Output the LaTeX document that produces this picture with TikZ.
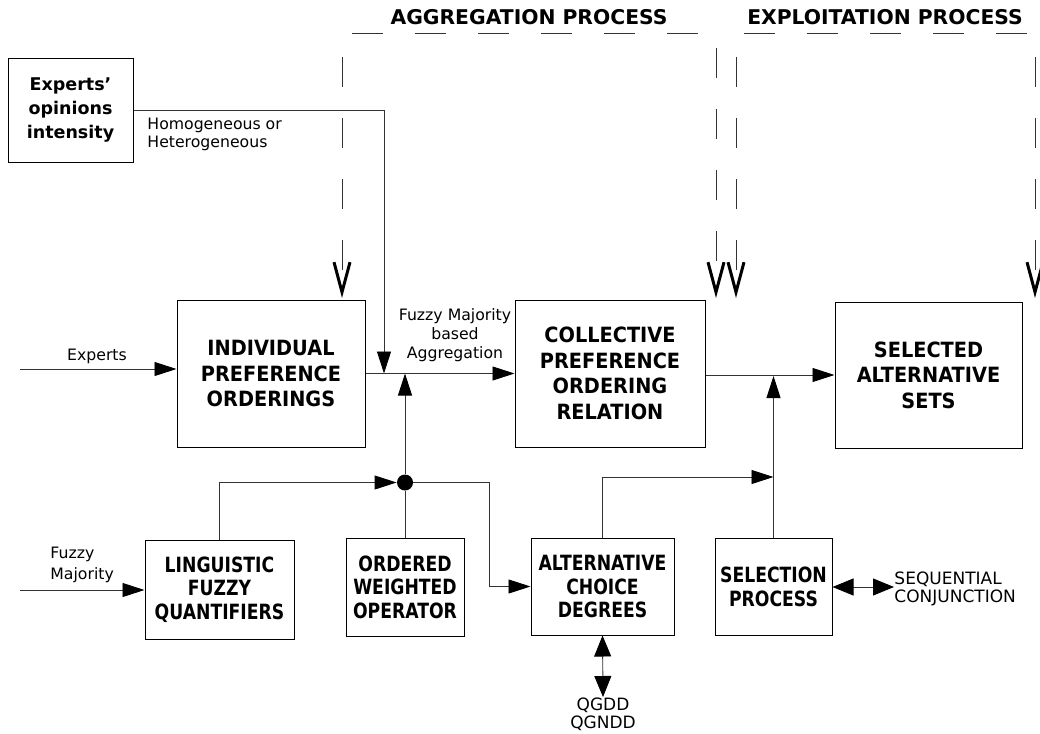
\documentclass[tikz,border=0pt]{standalone}
\usepackage{fontspec}
\setmainfont{DejaVu Sans}
\newfontfamily\boxfont[FakeStretch=0.92]{DejaVu Sans}
\newfontfamily\lowboxfont[FakeStretch=0.82]{DejaVu Sans}
\usetikzlibrary{arrows.meta}
\begin{document}
\begin{tikzpicture}[x=1pt,y=-1pt,
  line width=0.9pt,
  box/.style={draw=black, line width=1pt, align=center, inner sep=0pt},
  bigbox/.style={box, font=\boxfont\bfseries\fontsize{21}{25.5}\selectfont},
  lowbox/.style={box, font=\lowboxfont\bfseries\fontsize{21}{23.5}\selectfont},
  srcbox/.style={box, font=\bfseries\fontsize{17.5}{24}\selectfont},
  lbl/.style={font=\fontsize{15.7}{18}\selectfont, inner sep=0pt},
  caplbl/.style={font=\fontsize{17}{18.5}\selectfont, inner sep=0pt},
  title/.style={font=\bfseries\fontsize{20.3}{24}\selectfont, inner sep=0pt},
  flow/.style={draw=black!80, -{Triangle[length=22pt,width=14pt,color=black]}},
  both/.style={draw=black!80, {Triangle[length=21pt,width=17pt,color=black]}-{Triangle[length=21pt,width=17pt,color=black]}},
  phase/.style={draw=black!80, dash pattern=on 30pt off 31pt,
    -{Straight Barb[length=30pt,width=16pt,line width=3pt,color=black]}},
  band/.style={draw=black!80, dash pattern=on 31pt off 32pt},
  junction/.style={circle, fill=black, minimum size=16pt, inner sep=0pt}
]
\useasboundingbox (0,0) rectangle (1040,733);

% process titles and their dashed bands
\node[title] (agg) at (529,17) {AGGREGATION PROCESS};
\node[title] (expl) at (885,17) {EXPLOITATION PROCESS};
\coordinate (aggL) at (352,33);  \coordinate (aggR) at (698,33);
\coordinate (explL) at (744,33); \coordinate (explR) at (1028,33);
\draw[band] (aggL) -- (aggR);
\draw[band] (explL) -- (explR);

% dashed phase markers
\coordinate (p1s) at (342,57);  \coordinate (p1e) at (342,298);
\coordinate (p2s) at (716,48);  \coordinate (p2e) at (716,298);
\coordinate (p3s) at (736,57);  \coordinate (p3e) at (736,298);
\coordinate (p4s) at (1035,57); \coordinate (p4e) at (1035,298);
\draw[phase] (p1s) -- (p1e);
\draw[phase] (p2s) -- (p2e);
\draw[phase] (p3s) -- (p3e);
\draw[phase] (p4s) -- (p4e);

% blocks
\node[srcbox, minimum width=125pt, minimum height=103pt] (eoi) at (70.5,110.5) {Experts'\\opinions\\intensity};
\node[bigbox, minimum width=188pt, minimum height=147pt] (ipo) at (271,373.5) {INDIVIDUAL\\PREFERENCE\\ORDERINGS};
\node[bigbox, minimum width=190pt, minimum height=147pt] (cpor) at (610,373.5) {COLLECTIVE\\PREFERENCE\\ORDERING\\RELATION};
\node[bigbox, minimum width=187pt, minimum height=146pt] (sas) at (928.5,375) {SELECTED\\ALTERNATIVE\\SETS};
\node[lowbox, minimum width=149pt, minimum height=99pt] (lfq) at (219.5,589.5) {LINGUISTIC\\FUZZY\\QUANTIFIERS};
\node[lowbox, minimum width=118pt, minimum height=98pt] (owo) at (405,587) {ORDERED\\WEIGHTED\\OPERATOR};
\node[lowbox, minimum width=143pt, minimum height=97pt] (acd) at (602.5,586.5) {ALTERNATIVE\\CHOICE\\DEGREES};
\node[lowbox, minimum width=117pt, minimum height=97pt] (sp) at (773.5,587) {SELECTION\\PROCESS};
\node[junction] (dot) at (405,482.5) {};

% free ends and joins
\coordinate (ein) at (20,369);
\coordinate (fin) at (20,590);
\coordinate (j1) at (384,373.5);
\coordinate (j2) at (405,373.5);
\coordinate (j3) at (773.5,477);
\coordinate (j4) at (773.5,376);
\coordinate (bend) at (489,482.5);

% labels
\node[lbl] (lexp) at (97,356) {Experts};
\node[lbl, align=left, anchor=west] (lhom) at (147,134.5) {Homogeneous or\\Heterogeneous};
\node[lbl, align=center, font=\fontsize{15.7}{19}\selectfont] (lfm) at (455,335) {Fuzzy Majority\\based\\Aggregation};
\node[lbl, align=left, anchor=west, font=\fontsize{15.7}{21.5}\selectfont] (lfuz) at (50,565) {Fuzzy\\Majority};
\node[caplbl, align=left, anchor=west] (seq) at (894,589) {SEQUENTIAL\\CONJUNCTION};
\node[caplbl, align=center, anchor=north] (qg) at (603,697) {QGDD\\QGNDD};

% connectors
\draw[flow] (ein) -- (ipo.west |- ein);
\draw[flow] (eoi.east) -| (j1);
\draw[flow] (ipo) -- (cpor);
\draw[flow] (dot) -- (j2);
\draw[flow] (lfq.north) |- (dot.west);
\draw[draw=black!80] (owo.north) -- (dot);
\draw[flow] (dot) -- (bend) |- (acd.west);
\draw[flow] (acd.north) |- (j3);
\draw[flow] (sp.north) -- (j4);
\draw[flow] (cpor.east |- sas.west) -- (sas.west);
\draw[flow] (fin) -- (lfq.west |- fin);
\draw[both] (sp.east) -- (sp.east -| seq.west);
\draw[both] (acd.south) -- (qg.north);
\end{tikzpicture}
\end{document}
